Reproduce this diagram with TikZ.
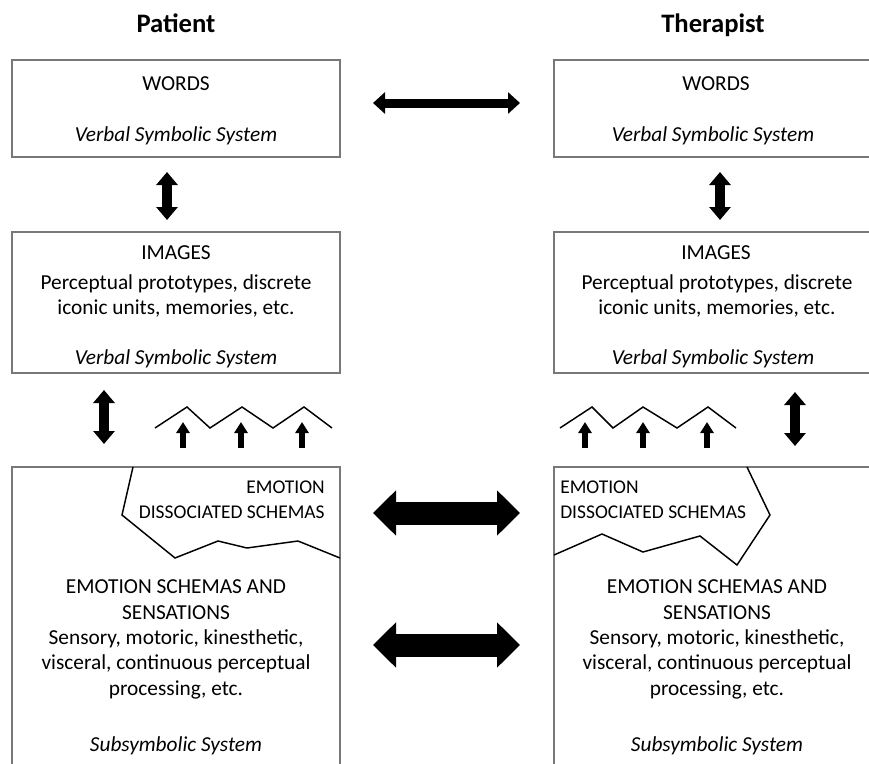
\documentclass[tikz,border=0pt]{standalone}
\usepackage{fontspec}
\setmainfont{Carlito}
\usetikzlibrary{arrows.meta}
\definecolor{boxgray}{RGB}{120,120,120}
\begin{document}
\begin{tikzpicture}[x=0.75pt,y=-0.75pt,
  box/.style={draw=boxgray,line width=1.2pt,inner sep=0pt,outer sep=0pt,minimum width=#1},
  txt/.style={font=\fontsize{16}{19}\selectfont,inner sep=0pt,anchor=base},
  dtxt/.style={font=\fontsize{14.6}{18}\selectfont,inner sep=0pt},
  ttl/.style={font=\fontsize{20}{24}\selectfont\bfseries,inner sep=0pt,anchor=base},
  zig/.style={line width=1.1pt,line join=miter},
  thinarrow/.style={line width=6.75pt,{Triangle[length=9pt,width=15.75pt]}-{Triangle[length=9pt,width=15.75pt]}},
  varrow/.style={line width=7.5pt,{Triangle[length=9.75pt,width=15.75pt]}-{Triangle[length=9.75pt,width=15.75pt]}},
  uparrow/.style={line width=4.5pt,-{Triangle[length=8.25pt,width=9.75pt]}},
  bigarrow/.style={line width=17.25pt,{Triangle[length=17.25pt,width=33pt]}-{Triangle[length=17.25pt,width=33pt]}}]
\useasboundingbox (0,0) rectangle (869,764);
\fill[white] (0,0) rectangle (869,764);
\clip (0,0) rectangle (869,764);

% titles
\node[ttl] (tp) at (176,32) {Patient};
\node[ttl] (tt) at (713,32) {Therapist};

% boxes
\node[box=246pt,minimum height=72.75pt] (wl) at (176,108.5) {};
\node[box=244.5pt,minimum height=72.75pt] (wr) at (717,108.5) {};
\node[box=246pt,minimum height=105.75pt] (il) at (176,302.5) {};
\node[box=244.5pt,minimum height=105.75pt] (ir) at (717,302.5) {};
\node[box=246pt,minimum height=231pt] (bl) at (176,621) {};
\node[box=244.5pt,minimum height=231pt] (br) at (717,621) {};

% words texts
\node[txt] (wl1) at (176,90) {WORDS};
\node[txt] (wl2) at (176,141) {\itshape Verbal Symbolic System};
\node[txt] (wr1) at (716,90) {WORDS};
\node[txt] (wr2) at (713,141) {\itshape Verbal Symbolic System};

% images texts
\node[txt] (il1) at (176,259) {IMAGES};
\node[txt] (il2) at (176,289) {Perceptual prototypes, discrete};
\node[txt] (il3) at (176,314) {iconic units, memories, etc.};
\node[txt] (il4) at (176,364) {\itshape Verbal Symbolic System};
\node[txt] (ir1) at (716,259) {IMAGES};
\node[txt] (ir2) at (717,289) {Perceptual prototypes, discrete};
\node[txt] (ir3) at (717,314) {iconic units, memories, etc.};
\node[txt] (ir4) at (713,364) {\itshape Verbal Symbolic System};

% dissociated shapes
\draw[zig] (133,467) -- (122,515) -- (175,558) -- (218,541) -- (247,548) -- (298,541) -- (340,558);
\draw[zig] (747,467) -- (770,515) -- (737,565) -- (700,536) -- (643,552) -- (602,534) -- (554,555);
\node[dtxt,anchor=base east] (dl1) at (325,493) {EMOTION};
\node[dtxt,anchor=base east] (dl2) at (325,518) {DISSOCIATED SCHEMAS};
\node[dtxt,anchor=base west] (dr1) at (560,493) {EMOTION};
\node[dtxt,anchor=base west] (dr2) at (560,518) {DISSOCIATED SCHEMAS};

% bottom texts
\foreach \cx/\s in {176/l,717/r}{
  \node[txt] (e\s1) at (\cx,593) {EMOTION SCHEMAS AND};
  \node[txt] (e\s2) at (\cx,619) {SENSATIONS};
  \node[txt] (e\s3) at (\cx,644) {Sensory, motoric, kinesthetic,};
  \node[txt] (e\s4) at (\cx,669) {visceral, continuous perceptual};
  \node[txt] (e\s5) at (\cx,695) {processing, etc.};
  \node[txt] (e\s6) at (\cx,751) {\itshape Subsymbolic System};
}

% zigzags
\draw[zig] (155,428) -- (187,407) -- (210,428) -- (242,407) -- (273,428) -- (304,407) -- (332,428);
\draw[zig] (560,428) -- (592,407) -- (613,428) -- (643,407) -- (677,428) -- (708,407) -- (736,428);

% small up arrows
\foreach \x [count=\i] in {183,241,302}{
  \coordinate (ula\i) at (\x,448); \coordinate (ulb\i) at (\x,422);
  \draw[uparrow] (ula\i) -- (ulb\i);
}
\foreach \x [count=\i] in {585,643,707}{
  \coordinate (ura\i) at (\x,448); \coordinate (urb\i) at (\x,422);
  \draw[uparrow] (ura\i) -- (urb\i);
}

% connectors
\draw[thinarrow] ([shift={(33,-5.5)}]wl.east) -- ([shift={(-34,-5.5)}]wr.west);
\draw[varrow] ([shift={(-9,15)}]wl.south) -- ([shift={(-9,-12)}]il.north);
\draw[varrow] ([shift={(3,15)}]wr.south) -- ([shift={(3,-12)}]ir.north);
\draw[varrow] ([shift={(-72,17)}]il.south) -- ([shift={(-72,-23)}]bl.north);
\draw[varrow] ([shift={(78,19)}]ir.south) -- ([shift={(78,-21)}]br.north);
\draw[bigarrow] ([shift={(33,-108)}]bl.east) -- ([shift={(-34,-108)}]br.west);
\draw[bigarrow] ([shift={(33,24)}]bl.east) -- ([shift={(-34,24)}]br.west);
\end{tikzpicture}
\end{document}
